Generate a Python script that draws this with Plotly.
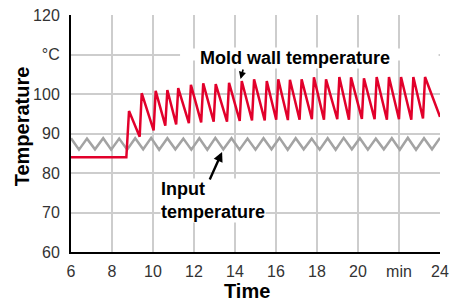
import plotly.graph_objects as go

# ---- data ----
x_ticks = [6, 8, 10, 12, 14, 16, 18, 20, 22, 24]
x_ticklabels = ["6", "8", "10", "12", "14", "16", "18", "20", "min", "24"]
y_ticks = [60, 70, 80, 90, 100, 110, 120]
y_ticklabels = ["60", "70", "80", "90", "100", "°C", "120"]

input_t = [6.0, 6.39, 6.78, 7.17, 7.57, 7.96, 8.35, 8.74, 9.13, 9.52, 9.91, 10.30,
           10.70, 11.09, 11.48, 11.87, 12.26, 12.65, 13.04, 13.43, 13.83, 14.22,
           14.61, 15.00, 15.39, 15.78, 16.17, 16.57, 16.96, 17.35, 17.74, 18.13,
           18.52, 18.91, 19.30, 19.70, 20.09, 20.48, 20.87, 21.26, 21.65, 22.04,
           22.43, 22.83, 23.22, 23.61, 24.0]
input_temp = [88.8, 85.9, 88.7, 86.0, 88.8, 85.9, 88.7, 85.9, 88.8, 86.0,
              88.9, 85.9, 88.8, 86.0, 88.7, 85.9, 88.8, 85.9, 88.9, 86.0,
              88.8, 85.9, 88.7, 85.9, 88.8, 86.0, 88.9, 85.9, 88.8, 86.0,
              88.7, 85.9, 88.8, 85.9, 88.9, 86.0, 88.8, 85.9, 88.7, 86.0,
              88.8, 85.9, 88.9, 85.9, 88.8, 86.0, 88.9]

mold_t = [6.0, 8.7, 8.83, 9.35, 9.45, 10.03, 10.13, 10.6, 10.7, 11.13, 11.23,
          11.75, 11.85, 12.35, 12.45, 12.96, 13.06, 13.61, 13.71, 14.23, 14.33,
          14.83, 14.93, 15.45, 15.55, 16.01, 16.11, 16.58, 16.68, 17.15, 17.25,
          17.75, 17.85, 18.34, 18.44, 18.99, 19.09, 19.56, 19.66, 20.19, 20.29,
          20.81, 20.91, 21.41, 21.51, 22.0, 22.10, 22.6, 22.70, 23.17, 23.27, 24.0]
mold_temp = [84.0, 84.0, 95.7, 89.2, 100.2, 90.8, 100.8, 92.0, 101.0, 92.3, 101.5,
             92.6, 102.3, 92.8, 102.7, 93.0, 102.5, 93.0, 102.8, 93.2, 103.3,
             93.3, 103.7, 93.3, 103.3, 93.5, 103.7, 93.4, 103.6, 93.5, 103.7,
             93.6, 104.2, 93.5, 103.7, 93.6, 104.3, 93.5, 104.2, 93.7, 104.0,
             93.6, 104.3, 93.5, 104.3, 93.6, 104.3, 93.5, 104.3, 93.8, 104.3, 94.2]

GRID = "#cdcdcd"
RED = "#e2002b"
GRAY = "#a3a3a3"

fig = go.Figure()
fig.add_trace(go.Scatter(x=input_t, y=input_temp, mode="lines",
                         line=dict(color=GRAY, width=2.5), hoverinfo="skip"))
fig.add_trace(go.Scatter(x=mold_t, y=mold_temp, mode="lines",
                         line=dict(color=RED, width=2.5), hoverinfo="skip"))

# white band hiding the 110 grid line behind the label
fig.add_shape(type="rect", xref="x", yref="y", x0=11.32, x1=23.93, y0=108.5, y1=111.5,
              fillcolor="white", line=dict(width=0), layer="between")

fig.update_layout(
    width=456, height=301,
    margin=dict(l=71, r=16, t=15, b=49, autoexpand=False),
    paper_bgcolor="white", plot_bgcolor="white",
    showlegend=False,
    font=dict(family="Liberation Sans", size=16, color="#333"),
    xaxis=dict(range=[6, 24], tickvals=x_ticks, ticktext=x_ticklabels,
               showgrid=True, gridcolor=GRID, gridwidth=1.5, zeroline=False,
               showline=True, linecolor="black", linewidth=2, ticks="",
               ticklabelstandoff=4, automargin=False, fixedrange=True),
    yaxis=dict(range=[60, 120], tickvals=y_ticks, ticktext=y_ticklabels,
               showgrid=True, gridcolor=GRID, gridwidth=1.5, zeroline=False,
               showline=True, linecolor="black", linewidth=2, ticks="",
               ticklabelstandoff=6, automargin=False, fixedrange=True),
)

bold = dict(family="Liberation Sans", size=18, color="black")
fig.add_annotation(x=16.93, y=109.1, xref="x", yref="y", text="<b>Mold wall temperature</b>",
                   showarrow=False, font=bold, bgcolor="white", borderpad=0)
fig.add_annotation(x=14.27, y=103.8, xref="x", yref="y", text="", showarrow=True,
                   ax=3, ay=-11, arrowhead=2, arrowsize=0.9, arrowwidth=1.6, arrowcolor="black")
fig.add_annotation(x=10.32, y=73.0, xref="x", yref="y", text="<b>Input<br>temperature</b>",
                   showarrow=False, font=bold, align="left", xanchor="left",
                   bgcolor="white", borderpad=0)
fig.add_annotation(x=13.37, y=85.3, xref="x", yref="y", text="", showarrow=True,
                   ax=-13, ay=29, arrowhead=2, arrowsize=0.8, arrowwidth=2.4, arrowcolor="black")

title_font = dict(family="Liberation Sans", size=20, color="black")
fig.add_annotation(x=-0.133, y=0.53, xref="paper", yref="paper", text="<b>Temperature</b>",
                   textangle=-90, showarrow=False, font=title_font,
                   xanchor="center", yanchor="middle")
fig.add_annotation(x=0.477, y=-0.165, xref="paper", yref="paper", text="<b>Time</b>",
                   showarrow=False, font=title_font, xanchor="center", yanchor="middle")

fig.write_html("out.html", config={"displayModeBar": False},
               post_script="document.body.style.margin='0';document.body.style.overflow='hidden';")
